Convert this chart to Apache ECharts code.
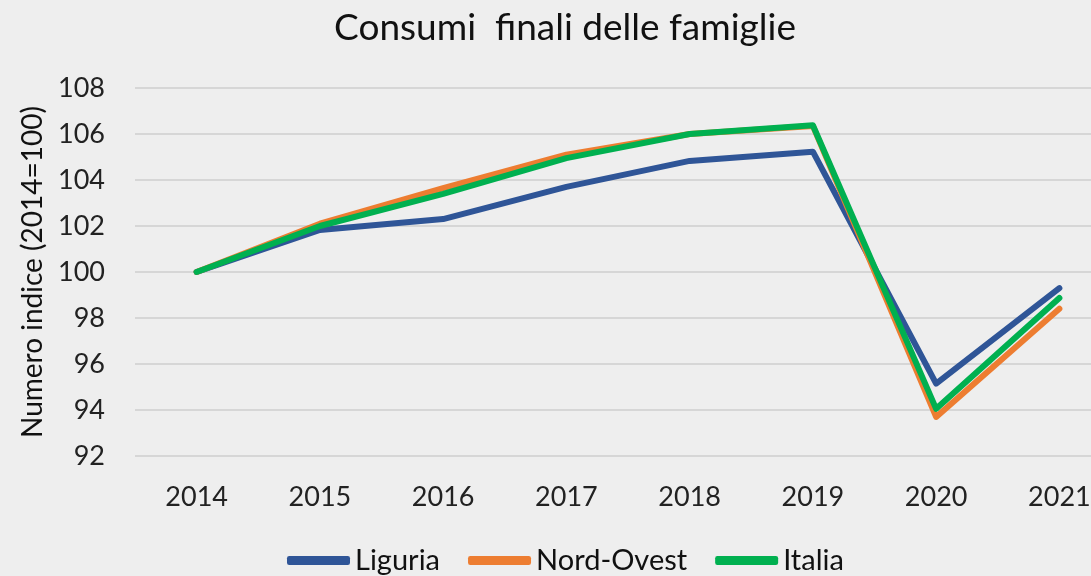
<!DOCTYPE html>
<html>
<head>
<meta charset="utf-8">
<script src="https://cdn.jsdelivr.net/npm/echarts@6/dist/echarts.min.js"></script>
<style>
  html, body { margin: 0; padding: 0; background: #eeeeee; }
  #main { width: 1091px; height: 576px; }
</style>
</head>
<body>
<div id="main"></div>
<script>
    // dati
    var anni = ["2014", "2015", "2016", "2017", "2018", "2019", "2020", "2021"];
    var liguria = [100, 101.83, 102.3, 103.7, 104.83, 105.23, 95.15, 99.3];
    var nordOvest = [100, 102.1, 103.65, 105.1, 106.0, 106.35, 93.7, 98.4];
    var italia = [100, 102.0, 103.4, 104.95, 106.0, 106.38, 94.05, 98.87];

    var fonte = "Lato, 'Open Sans', sans-serif";

    function serie(nome, dati, colore) {
        return {
            name: nome,
            type: "line",
            data: dati,
            symbol: "none",
            lineStyle: { width: 6, color: colore, cap: "round", join: "round" },
            itemStyle: { color: colore }
        };
    }

    var myChart = echarts.init(document.getElementById("main"));
    var option = {
        backgroundColor: "#eeeeee",
        animation: false,
        title: {
            text: "Consumi  finali delle famiglie",
            left: 560,
            textAlign: "center",
            top: 5,
            textStyle: { fontFamily: fonte, fontSize: 37, fontWeight: "normal", color: "#111" }
        },
        // il grafico originale è tagliato a destra
        grid: { left: 135, top: 88, width: 986, height: 368, outerBoundsMode: "none" },
        xAxis: {
            type: "category",
            data: anni,
            boundaryGap: true,
            axisLine: { show: false },
            axisTick: { show: false },
            axisLabel: { fontFamily: fonte, fontSize: 27, color: "#222", margin: 28 }
        },
        yAxis: {
            type: "value",
            min: 92,
            max: 108,
            interval: 2,
            name: "Numero indice (2014=100)",
            nameLocation: "middle",
            nameGap: 88,
            nameTextStyle: { fontFamily: fonte, fontSize: 28, color: "#111" },
            axisLine: { show: false },
            axisTick: { show: false },
            axisLabel: { fontFamily: fonte, fontSize: 27, color: "#222", margin: 30 },
            splitLine: { lineStyle: { color: "#d6d6d6", width: 2 } }
        },
        legend: {
            bottom: -4,
            left: 282,
            itemWidth: 63,
            itemHeight: 9,
            itemGap: 28,
            icon: "roundRect",
            textStyle: { fontFamily: fonte, fontSize: 29, color: "#111" }
        },
        series: [
            serie("Liguria", liguria, "#2f5597"),
            serie("Nord-Ovest", nordOvest, "#ed7d31"),
            serie("Italia", italia, "#00b050")
        ]
    };
    myChart.setOption(option);
</script>
</body>
</html>
